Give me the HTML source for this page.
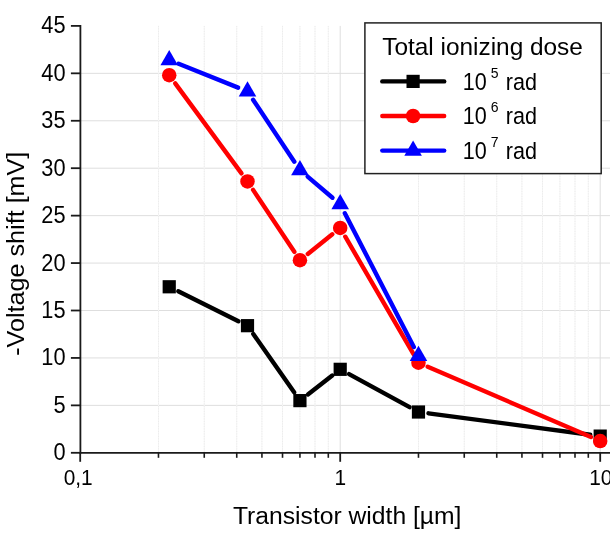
<!DOCTYPE html><html><head><meta charset="utf-8"><style>html,body{margin:0;padding:0;background:#fff;overflow:hidden}svg{display:block;will-change:transform}text{font-family:"Liberation Sans",sans-serif;fill:#000}</style></head><body>
<svg width="610" height="539" viewBox="0 0 610 539">
<rect width="610" height="539" fill="#fff"/>
<line x1="80.4" y1="405.37" x2="610" y2="405.37" stroke="#dedede" stroke-width="1"/>
<line x1="80.4" y1="357.93" x2="610" y2="357.93" stroke="#dedede" stroke-width="1"/>
<line x1="80.4" y1="310.50" x2="610" y2="310.50" stroke="#dedede" stroke-width="1"/>
<line x1="80.4" y1="263.07" x2="610" y2="263.07" stroke="#dedede" stroke-width="1"/>
<line x1="80.4" y1="215.63" x2="610" y2="215.63" stroke="#dedede" stroke-width="1"/>
<line x1="80.4" y1="168.20" x2="610" y2="168.20" stroke="#dedede" stroke-width="1"/>
<line x1="80.4" y1="120.77" x2="610" y2="120.77" stroke="#dedede" stroke-width="1"/>
<line x1="80.4" y1="73.33" x2="610" y2="73.33" stroke="#dedede" stroke-width="1"/>
<line x1="158.47" y1="25.9" x2="158.47" y2="452.8" stroke="#f5f5f5" stroke-width="1"/>
<line x1="158.47" y1="25.9" x2="158.47" y2="452.8" stroke="#ebebeb" stroke-width="1" stroke-dasharray="1,1.5"/>
<line x1="204.25" y1="25.9" x2="204.25" y2="452.8" stroke="#f5f5f5" stroke-width="1"/>
<line x1="204.25" y1="25.9" x2="204.25" y2="452.8" stroke="#ebebeb" stroke-width="1" stroke-dasharray="1,1.5"/>
<line x1="236.74" y1="25.9" x2="236.74" y2="452.8" stroke="#f5f5f5" stroke-width="1"/>
<line x1="236.74" y1="25.9" x2="236.74" y2="452.8" stroke="#ebebeb" stroke-width="1" stroke-dasharray="1,1.5"/>
<line x1="261.93" y1="25.9" x2="261.93" y2="452.8" stroke="#f5f5f5" stroke-width="1"/>
<line x1="261.93" y1="25.9" x2="261.93" y2="452.8" stroke="#ebebeb" stroke-width="1" stroke-dasharray="1,1.5"/>
<line x1="282.52" y1="25.9" x2="282.52" y2="452.8" stroke="#f5f5f5" stroke-width="1"/>
<line x1="282.52" y1="25.9" x2="282.52" y2="452.8" stroke="#ebebeb" stroke-width="1" stroke-dasharray="1,1.5"/>
<line x1="299.93" y1="25.9" x2="299.93" y2="452.8" stroke="#f5f5f5" stroke-width="1"/>
<line x1="299.93" y1="25.9" x2="299.93" y2="452.8" stroke="#ebebeb" stroke-width="1" stroke-dasharray="1,1.5"/>
<line x1="315.00" y1="25.9" x2="315.00" y2="452.8" stroke="#f5f5f5" stroke-width="1"/>
<line x1="315.00" y1="25.9" x2="315.00" y2="452.8" stroke="#ebebeb" stroke-width="1" stroke-dasharray="1,1.5"/>
<line x1="328.30" y1="25.9" x2="328.30" y2="452.8" stroke="#f5f5f5" stroke-width="1"/>
<line x1="328.30" y1="25.9" x2="328.30" y2="452.8" stroke="#ebebeb" stroke-width="1" stroke-dasharray="1,1.5"/>
<line x1="418.47" y1="25.9" x2="418.47" y2="452.8" stroke="#f5f5f5" stroke-width="1"/>
<line x1="418.47" y1="25.9" x2="418.47" y2="452.8" stroke="#ebebeb" stroke-width="1" stroke-dasharray="1,1.5"/>
<line x1="464.25" y1="25.9" x2="464.25" y2="452.8" stroke="#f5f5f5" stroke-width="1"/>
<line x1="464.25" y1="25.9" x2="464.25" y2="452.8" stroke="#ebebeb" stroke-width="1" stroke-dasharray="1,1.5"/>
<line x1="496.74" y1="25.9" x2="496.74" y2="452.8" stroke="#f5f5f5" stroke-width="1"/>
<line x1="496.74" y1="25.9" x2="496.74" y2="452.8" stroke="#ebebeb" stroke-width="1" stroke-dasharray="1,1.5"/>
<line x1="521.93" y1="25.9" x2="521.93" y2="452.8" stroke="#f5f5f5" stroke-width="1"/>
<line x1="521.93" y1="25.9" x2="521.93" y2="452.8" stroke="#ebebeb" stroke-width="1" stroke-dasharray="1,1.5"/>
<line x1="542.52" y1="25.9" x2="542.52" y2="452.8" stroke="#f5f5f5" stroke-width="1"/>
<line x1="542.52" y1="25.9" x2="542.52" y2="452.8" stroke="#ebebeb" stroke-width="1" stroke-dasharray="1,1.5"/>
<line x1="559.93" y1="25.9" x2="559.93" y2="452.8" stroke="#f5f5f5" stroke-width="1"/>
<line x1="559.93" y1="25.9" x2="559.93" y2="452.8" stroke="#ebebeb" stroke-width="1" stroke-dasharray="1,1.5"/>
<line x1="575.00" y1="25.9" x2="575.00" y2="452.8" stroke="#f5f5f5" stroke-width="1"/>
<line x1="575.00" y1="25.9" x2="575.00" y2="452.8" stroke="#ebebeb" stroke-width="1" stroke-dasharray="1,1.5"/>
<line x1="588.30" y1="25.9" x2="588.30" y2="452.8" stroke="#f5f5f5" stroke-width="1"/>
<line x1="588.30" y1="25.9" x2="588.30" y2="452.8" stroke="#ebebeb" stroke-width="1" stroke-dasharray="1,1.5"/>
<line x1="340.20" y1="25.9" x2="340.20" y2="452.8" stroke="#dedede" stroke-width="1"/>
<line x1="600.20" y1="25.9" x2="600.20" y2="452.8" stroke="#dedede" stroke-width="1"/>
<line x1="178.27" y1="291.28" x2="238.45" y2="321.18" stroke="#000" stroke-width="4.4" stroke-linecap="round"/>
<line x1="253.29" y1="333.95" x2="294.14" y2="392.35" stroke="#000" stroke-width="4.4" stroke-linecap="round"/>
<line x1="307.90" y1="394.42" x2="332.23" y2="375.52" stroke="#000" stroke-width="4.4" stroke-linecap="round"/>
<line x1="349.07" y1="374.15" x2="409.60" y2="407.17" stroke="#000" stroke-width="4.4" stroke-linecap="round"/>
<line x1="428.48" y1="413.33" x2="590.19" y2="434.78" stroke="#000" stroke-width="4.4" stroke-linecap="round"/>
<rect x="162.63" y="280.18" width="13.2" height="13.2" fill="#000"/>
<rect x="240.90" y="319.08" width="13.2" height="13.2" fill="#000"/>
<rect x="293.33" y="394.02" width="13.2" height="13.2" fill="#000"/>
<rect x="333.60" y="362.72" width="13.2" height="13.2" fill="#000"/>
<rect x="411.87" y="405.41" width="13.2" height="13.2" fill="#000"/>
<rect x="593.60" y="429.50" width="13.2" height="13.2" fill="#000"/>
<line x1="175.22" y1="83.36" x2="241.51" y2="173.35" stroke="#f00" stroke-width="4.4" stroke-linecap="round"/>
<line x1="253.10" y1="189.89" x2="294.33" y2="251.81" stroke="#f00" stroke-width="4.4" stroke-linecap="round"/>
<line x1="307.81" y1="253.91" x2="332.32" y2="234.28" stroke="#f00" stroke-width="4.4" stroke-linecap="round"/>
<line x1="345.27" y1="236.70" x2="413.39" y2="353.94" stroke="#f00" stroke-width="4.4" stroke-linecap="round"/>
<line x1="427.74" y1="366.68" x2="590.93" y2="437.04" stroke="#f00" stroke-width="4.4" stroke-linecap="round"/>
<circle cx="169.23" cy="75.23" r="7.25" fill="#f00"/>
<circle cx="247.50" cy="181.48" r="7.25" fill="#f00"/>
<circle cx="299.93" cy="260.22" r="7.25" fill="#f00"/>
<circle cx="340.20" cy="227.97" r="7.25" fill="#f00"/>
<circle cx="418.47" cy="362.68" r="7.25" fill="#f00"/>
<circle cx="600.20" cy="441.04" r="7.25" fill="#f00"/>
<line x1="178.61" y1="63.80" x2="238.12" y2="87.61" stroke="#00f" stroke-width="4.4" stroke-linecap="round"/>
<line x1="253.10" y1="99.76" x2="294.33" y2="161.69" stroke="#00f" stroke-width="4.4" stroke-linecap="round"/>
<line x1="307.63" y1="176.63" x2="332.50" y2="197.72" stroke="#00f" stroke-width="4.4" stroke-linecap="round"/>
<line x1="344.83" y1="213.23" x2="413.84" y2="347.06" stroke="#00f" stroke-width="4.4" stroke-linecap="round"/>
<polygon points="169.23,49.89 160.43,65.13 178.03,65.13" fill="#00f"/>
<polygon points="247.50,81.20 238.70,96.44 256.30,96.44" fill="#00f"/>
<polygon points="299.93,159.94 291.13,175.18 308.73,175.18" fill="#00f"/>
<polygon points="340.20,194.09 331.40,209.33 349.00,209.33" fill="#00f"/>
<polygon points="418.47,345.87 409.67,361.12 427.27,361.12" fill="#00f"/>
<line x1="80.4" y1="25.0" x2="80.4" y2="453.7" stroke="#1a1a1a" stroke-width="1.8"/>
<line x1="79.5" y1="452.8" x2="610" y2="452.8" stroke="#1a1a1a" stroke-width="1.8"/>
<line x1="70.9" y1="452.80" x2="80.4" y2="452.80" stroke="#1a1a1a" stroke-width="1.8"/>
<text transform="translate(65.6,460.30) scale(0.935,1)" font-size="23.3" text-anchor="end">0</text>
<line x1="70.9" y1="405.37" x2="80.4" y2="405.37" stroke="#1a1a1a" stroke-width="1.8"/>
<text transform="translate(65.6,412.87) scale(0.935,1)" font-size="23.3" text-anchor="end">5</text>
<line x1="70.9" y1="357.93" x2="80.4" y2="357.93" stroke="#1a1a1a" stroke-width="1.8"/>
<text transform="translate(65.6,365.43) scale(0.935,1)" font-size="23.3" text-anchor="end">10</text>
<line x1="70.9" y1="310.50" x2="80.4" y2="310.50" stroke="#1a1a1a" stroke-width="1.8"/>
<text transform="translate(65.6,318.00) scale(0.935,1)" font-size="23.3" text-anchor="end">15</text>
<line x1="70.9" y1="263.07" x2="80.4" y2="263.07" stroke="#1a1a1a" stroke-width="1.8"/>
<text transform="translate(65.6,270.57) scale(0.935,1)" font-size="23.3" text-anchor="end">20</text>
<line x1="70.9" y1="215.63" x2="80.4" y2="215.63" stroke="#1a1a1a" stroke-width="1.8"/>
<text transform="translate(65.6,223.13) scale(0.935,1)" font-size="23.3" text-anchor="end">25</text>
<line x1="70.9" y1="168.20" x2="80.4" y2="168.20" stroke="#1a1a1a" stroke-width="1.8"/>
<text transform="translate(65.6,175.70) scale(0.935,1)" font-size="23.3" text-anchor="end">30</text>
<line x1="70.9" y1="120.77" x2="80.4" y2="120.77" stroke="#1a1a1a" stroke-width="1.8"/>
<text transform="translate(65.6,128.27) scale(0.935,1)" font-size="23.3" text-anchor="end">35</text>
<line x1="70.9" y1="73.33" x2="80.4" y2="73.33" stroke="#1a1a1a" stroke-width="1.8"/>
<text transform="translate(65.6,80.83) scale(0.935,1)" font-size="23.3" text-anchor="end">40</text>
<line x1="70.9" y1="25.90" x2="80.4" y2="25.90" stroke="#1a1a1a" stroke-width="1.8"/>
<text transform="translate(65.6,33.40) scale(0.935,1)" font-size="23.3" text-anchor="end">45</text>
<line x1="80.20" y1="452.8" x2="80.20" y2="461.8" stroke="#1a1a1a" stroke-width="1.8"/>
<line x1="158.47" y1="452.8" x2="158.47" y2="457.8" stroke="#1a1a1a" stroke-width="1.6"/>
<line x1="204.25" y1="452.8" x2="204.25" y2="457.8" stroke="#1a1a1a" stroke-width="1.6"/>
<line x1="236.74" y1="452.8" x2="236.74" y2="457.8" stroke="#1a1a1a" stroke-width="1.6"/>
<line x1="261.93" y1="452.8" x2="261.93" y2="457.8" stroke="#1a1a1a" stroke-width="1.6"/>
<line x1="282.52" y1="452.8" x2="282.52" y2="457.8" stroke="#1a1a1a" stroke-width="1.6"/>
<line x1="299.93" y1="452.8" x2="299.93" y2="457.8" stroke="#1a1a1a" stroke-width="1.6"/>
<line x1="315.00" y1="452.8" x2="315.00" y2="457.8" stroke="#1a1a1a" stroke-width="1.6"/>
<line x1="328.30" y1="452.8" x2="328.30" y2="457.8" stroke="#1a1a1a" stroke-width="1.6"/>
<line x1="340.20" y1="452.8" x2="340.20" y2="461.8" stroke="#1a1a1a" stroke-width="1.8"/>
<line x1="418.47" y1="452.8" x2="418.47" y2="457.8" stroke="#1a1a1a" stroke-width="1.6"/>
<line x1="464.25" y1="452.8" x2="464.25" y2="457.8" stroke="#1a1a1a" stroke-width="1.6"/>
<line x1="496.74" y1="452.8" x2="496.74" y2="457.8" stroke="#1a1a1a" stroke-width="1.6"/>
<line x1="521.93" y1="452.8" x2="521.93" y2="457.8" stroke="#1a1a1a" stroke-width="1.6"/>
<line x1="542.52" y1="452.8" x2="542.52" y2="457.8" stroke="#1a1a1a" stroke-width="1.6"/>
<line x1="559.93" y1="452.8" x2="559.93" y2="457.8" stroke="#1a1a1a" stroke-width="1.6"/>
<line x1="575.00" y1="452.8" x2="575.00" y2="457.8" stroke="#1a1a1a" stroke-width="1.6"/>
<line x1="588.30" y1="452.8" x2="588.30" y2="457.8" stroke="#1a1a1a" stroke-width="1.6"/>
<line x1="600.20" y1="452.8" x2="600.20" y2="461.8" stroke="#1a1a1a" stroke-width="1.8"/>
<text transform="translate(63.7,485.2) scale(0.92,1)" font-size="22.7">0,1</text>
<text transform="translate(334.4,485.2) scale(0.92,1)" font-size="22.7">1</text>
<text transform="translate(589.2,485.2) scale(0.92,1)" font-size="22.7">10</text>
<text transform="translate(232.9,524.4) scale(1.008,1)" font-size="24.5">Transistor width [µm]</text>
<text transform="translate(24.3,355.8) rotate(-90) scale(1.027,1)" font-size="24.5">-Voltage shift [mV]</text>
<rect x="364.9" y="22.9" width="236.3" height="150.7" fill="#fff" stroke="#222" stroke-width="1.5"/>
<text transform="translate(382.2,54.7) scale(1.017,1)" font-size="24">Total ionizing dose</text>
<line x1="382.3" y1="81.4" x2="444.2" y2="81.4" stroke="#000" stroke-width="4.4" stroke-linecap="round"/>
<rect x="406.50" y="74.80" width="13.2" height="13.2" fill="#000"/>
<text transform="translate(462.7,89.80) scale(0.927,1)" font-size="23.3">10</text>
<text x="490.8" y="77.80" font-size="14">5</text>
<text transform="translate(505.7,89.80) scale(0.927,1)" font-size="23.3">rad</text>
<line x1="382.3" y1="116.0" x2="444.2" y2="116.0" stroke="#f00" stroke-width="4.4" stroke-linecap="round"/>
<circle cx="413.10" cy="116.00" r="7.25" fill="#f00"/>
<text transform="translate(462.7,124.40) scale(0.927,1)" font-size="23.3">10</text>
<text x="490.8" y="112.40" font-size="14">6</text>
<text transform="translate(505.7,124.40) scale(0.927,1)" font-size="23.3">rad</text>
<line x1="382.3" y1="150.6" x2="444.2" y2="150.6" stroke="#00f" stroke-width="4.4" stroke-linecap="round"/>
<polygon points="413.10,140.44 404.30,155.68 421.90,155.68" fill="#00f"/>
<text transform="translate(462.7,159.00) scale(0.927,1)" font-size="23.3">10</text>
<text x="490.8" y="147.00" font-size="14">7</text>
<text transform="translate(505.7,159.00) scale(0.927,1)" font-size="23.3">rad</text>
</svg></body></html>
